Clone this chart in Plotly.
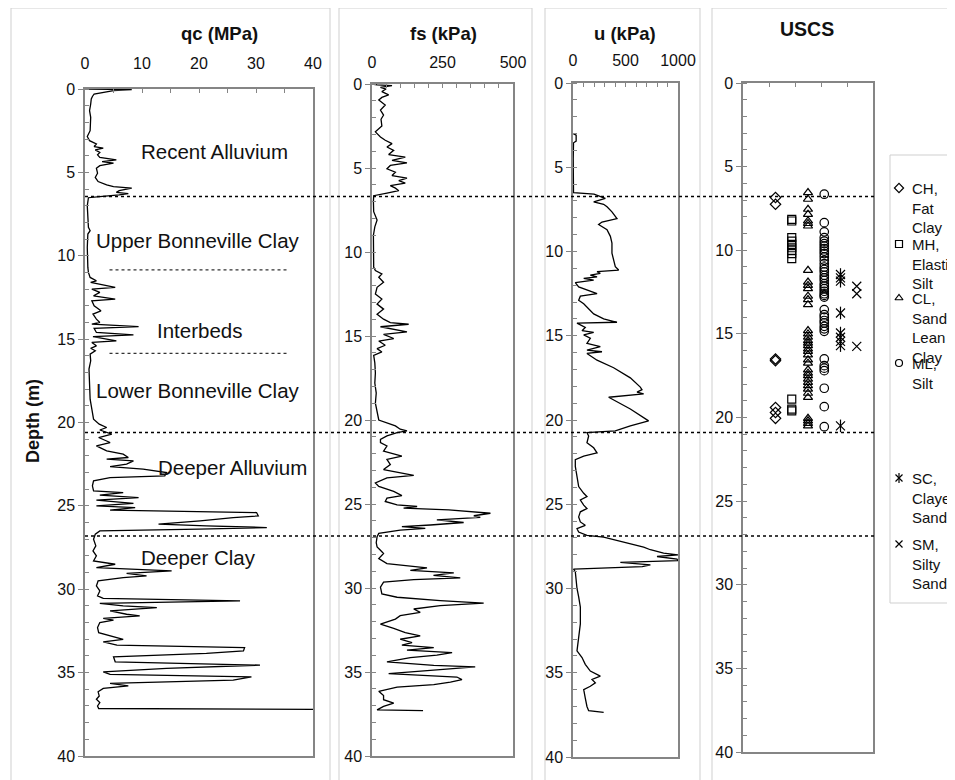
import plotly.graph_objects as go

# The page body keeps the browser's default 8px margin, so the figure is sized to fill the
# remaining window and all layout positions below are given in window pixels.
OFF = 8
W, H = 955 - OFF, 780 - OFF

# ---------------- data ----------------
QC_DEPTH = [0.0, 0.03, 0.1, 0.3, 0.45, 0.6, 0.9, 1.3, 1.7, 2.1, 2.5, 2.85, 3.1, 3.3, 3.45, 3.55, 3.65, 3.8, 3.95, 4.1,
            4.25, 4.35, 4.45, 4.6, 4.75, 5.05, 5.3, 5.55, 5.75, 5.85, 5.95, 6.1, 6.2, 6.27, 6.35, 6.45, 6.52, 7.0, 7.8, 8.3,
            8.5, 8.7, 9.5, 10.3, 10.7, 11.0, 11.3, 11.5, 11.6, 11.9, 12.0, 12.2, 12.4, 12.6, 12.7, 13.0, 13.3, 13.5, 13.8, 14.0,
            14.1, 14.25, 14.35, 14.6, 14.75, 14.85, 15.1, 15.2, 15.4, 15.55, 15.7, 15.9, 16.3, 16.8, 17.5, 18.0, 18.6, 19.2, 19.8, 20.1,
            20.3, 20.45, 20.7, 20.9, 21.2, 21.4, 21.7, 21.9, 22.1, 22.2, 22.3, 22.5, 22.65, 22.8, 23.0, 23.2, 23.3, 23.5, 23.8, 24.1,
            24.2, 24.35, 24.5, 24.65, 24.85, 25.0, 25.1, 25.25, 25.4, 25.6, 25.7, 25.9, 26.1, 26.2, 26.3, 26.4, 26.5, 26.7, 27.0, 27.4,
            27.7, 28.0, 28.3, 28.5, 28.7, 28.9, 29.05, 29.2, 29.3, 29.5, 29.8, 30.1, 30.4, 30.55, 30.7, 30.85, 31.0, 31.1, 31.3, 31.5,
            31.6, 31.75, 31.85, 32.0, 32.3, 32.6, 32.85, 33.0, 33.15, 33.35, 33.5, 33.7, 33.85, 34.05, 34.35, 34.55, 34.75, 34.95, 35.1, 35.25,
            35.45, 35.65, 35.8, 35.95, 36.15, 36.4, 36.6, 36.8, 37.0, 37.15, 37.2]
QC_MPA = [0.5, 8.2, 5.0, 1.6, 1.3, 1.1, 1.0, 0.8, 1.0, 0.9, 0.9, 0.4, 0.8, 2.0, 1.6, 3.2, 1.8, 2.6, 2.2, 2.6,
          5.5, 3.0, 5.0, 2.6, 2.0, 2.2, 1.8, 2.3, 3.8, 5.0, 8.2, 6.0, 5.5, 7.6, 6.0, 2.6, 0.6, 0.4, 0.5, 0.6,
          0.9, 0.5, 0.4, 0.4, 0.5, 0.6, 0.9, 2.0, 1.0, 5.3, 1.2, 2.6, 1.5, 5.3, 1.2, 1.6, 2.8, 1.4, 2.0, 2.6,
          1.2, 9.4, 1.6, 2.0, 8.5, 1.4, 5.5, 1.2, 2.0, 1.0, 1.8, 0.9, 1.0, 0.7, 0.8, 0.9, 0.9, 1.2, 1.5, 2.5,
          3.8, 2.6, 4.7, 2.4, 4.4, 2.0, 3.8, 6.7, 7.6, 3.8, 8.5, 7.3, 4.4, 10.2, 14.3, 14.0, 4.4, 1.5, 1.3, 1.5,
          6.7, 2.6, 9.4, 2.0, 8.5, 2.0, 8.8, 4.4, 30.1, 30.4, 26.0, 20.2, 12.9, 21.3, 31.9, 20.0, 2.6, 1.8, 1.5, 1.9,
          1.4, 2.0, 1.5, 5.3, 2.0, 15.2, 7.3, 10.8, 6.7, 2.3, 2.0, 2.6, 2.2, 3.2, 27.2, 2.6, 6.7, 12.6, 4.4, 7.3,
          9.6, 3.2, 5.0, 2.6, 2.2, 2.4, 5.0, 6.7, 3.2, 5.6, 28.0, 27.8, 21.3, 5.0, 5.3, 30.7, 14.3, 3.2, 4.4, 29.2,
          26.0, 4.4, 7.6, 3.2, 2.3, 2.5, 2.0, 2.6, 2.2, 2.4, 40.0]

FS_DEPTH = [0.0, 0.05, 0.1, 0.2, 0.3, 0.45, 0.65, 0.8, 0.95, 1.25, 1.55, 1.85, 2.1, 2.5, 2.85, 3.15, 3.35, 3.55, 3.75, 3.95,
            4.2, 4.35, 4.55, 4.7, 4.85, 5.05, 5.25, 5.45, 5.6, 5.75, 5.9, 6.05, 6.2, 6.35, 6.5, 6.65, 7.0, 7.6, 8.1, 8.5,
            9.0, 9.8, 10.5, 10.9, 11.1, 11.3, 11.5, 11.8, 12.1, 12.5, 12.8, 13.1, 13.4, 13.7, 14.0, 14.2, 14.3, 14.45, 14.75, 14.9,
            15.15, 15.3, 15.55, 15.75, 15.95, 16.15, 16.6, 17.2, 17.8, 18.4, 19.0, 19.6, 20.0, 20.35, 20.55, 20.65, 20.75, 20.95, 21.15, 21.35,
            21.55, 21.85, 22.15, 22.35, 22.65, 22.95, 23.3, 23.45, 23.75, 23.95, 24.25, 24.5, 24.65, 24.85, 25.05, 25.15, 25.25, 25.35, 25.55, 25.7,
            25.8, 25.95, 26.1, 26.25, 26.35, 26.45, 26.55, 26.75, 26.95, 27.3, 27.55, 27.75, 27.95, 28.25, 28.55, 28.8, 28.95, 29.1, 29.25, 29.4,
            29.5, 29.65, 29.95, 30.35, 30.55, 30.75, 30.9, 31.05, 31.25, 31.45, 31.65, 31.85, 32.15, 32.4, 32.65, 32.85, 33.05, 33.25, 33.4, 33.55,
            33.7, 33.85, 34.0, 34.15, 34.4, 34.6, 34.7, 34.9, 35.1, 35.3, 35.45, 35.6, 35.75, 35.9, 36.15, 36.4, 36.65, 36.85, 37.05, 37.25,
            37.3]
FS_KPA = [0, 18, 71, 30, 50, 35, 59, 35, 24, 47, 30, 41, 32, 35, 12, 30, 47, 71, 53, 77,
          59, 118, 71, 124, 65, 53, 83, 71, 124, 95, 118, 65, 83, 95, 53, 6, 5, 6, 18, 10,
          5, 6, 5, 6, 12, 35, 24, 41, 18, 12, 35, 18, 41, 18, 41, 65, 130, 30, 124, 41,
          77, 24, 47, 18, 35, 6, 10, 12, 10, 15, 12, 18, 24, 83, 100, 124, 89, 53, 30, 30,
          53, 41, 106, 53, 65, 41, 148, 53, 12, 24, 77, 106, 53, 47, 89, 160, 112, 272, 420, 361,
          384, 230, 325, 207, 106, 189, 100, 24, 18, 15, 18, 30, 41, 24, 53, 195, 136, 290, 218, 313,
          148, 41, 30, 35, 89, 242, 396, 242, 148, 171, 100, 83, 30, 77, 118, 171, 100, 142, 106, 219,
          124, 284, 230, 136, 53, 219, 366, 207, 59, 301, 319, 278, 219, 89, 24, 41, 41, 77, 41, 18,
          181]

U_DEPTH = [3.0, 3.1, 3.45, 3.55, 4.5, 6.0, 6.5, 6.6, 6.75, 6.85, 7.05, 7.2, 7.35, 7.65, 8.05, 8.25, 8.4, 8.7, 9.1, 9.5,
           10.1, 10.5, 10.9, 11.1, 11.2, 11.3, 11.4, 11.5, 11.6, 11.7, 11.85, 12.1, 12.3, 12.5, 12.65, 12.9, 13.1, 13.4, 13.7, 14.0,
           14.2, 14.25, 14.5, 14.7, 14.8, 14.95, 15.15, 15.45, 15.65, 15.85, 15.95, 16.05, 16.45, 16.9, 17.5, 18.05, 18.2, 18.35, 18.45, 18.65,
           19.35, 20.05, 20.35, 20.65, 20.75, 20.95, 21.35, 21.65, 21.95, 22.15, 22.35, 22.75, 23.4, 23.95, 24.35, 24.55, 24.75, 25.05, 25.25, 25.45,
           25.75, 26.05, 26.25, 26.45, 26.65, 26.85, 26.95, 27.25, 27.55, 27.7, 27.8, 27.9, 28.0, 28.1, 28.25, 28.35, 28.45, 28.6, 28.7, 28.85,
           29.0, 29.5, 30.0, 30.5, 31.1, 32.1, 33.1, 33.7, 34.1, 34.5, 34.9, 35.2, 35.4, 35.6, 35.8, 36.0, 36.5, 37.0, 37.25, 37.35]
U_KPA = [2, 30, 30, 5, 2, 3, 5, 200, 260, 308, 197, 292, 324, 371, 419, 276, 244, 324, 356, 371,
         371, 387, 403, 435, 229, 260, 165, 229, 102, 197, 22, 54, 133, 229, 70, 54, 102, 149, 197, 292,
         419, 38, 117, 86, 197, 102, 165, 133, 260, 133, 276, 133, 229, 387, 546, 641, 657, 610, 673, 340,
         546, 720, 546, 403, 133, 149, 133, 197, 229, 102, 22, 22, 38, 54, 102, 133, 70, 102, 133, 70,
         54, 70, 117, 38, 54, 133, 292, 483, 673, 737, 816, 863, 1000, 800, 990, 1000, 451, 737, 660, 5,
         22, 30, 38, 54, 70, 70, 54, 38, 86, 117, 165, 260, 181, 213, 165, 102, 117, 133, 149, 292]

USCS_CODES = ["CH", "MH", "CL", "ML", "SC", "SM"]
USCS_LABELS = ["CH,<br>Fat<br>Clay", "MH,<br>Elastic<br>Silt", "CL,<br>Sandy<br>Lean<br>Clay",
               "ML,<br>Silt", "SC,<br>Clayey<br>Sand", "SM,<br>Silty<br>Sand"]
USCS_COLUMN = [2, 3, 4, 5, 6, 7]
CH_DEPTH = [6.85, 7.25, 16.5, 16.6, 19.4, 19.7, 20.05]
MH_DEPTH = [8.15, 8.25, 9.25, 9.45, 9.65, 9.85, 10.0, 10.2, 10.5, 18.9, 19.5, 19.6]
CL_DEPTH = [6.55, 6.95, 7.55, 7.85, 8.25, 8.4, 8.55, 11.2, 11.9, 12.1, 12.3, 12.75, 12.95, 13.25,
            14.8, 15.0, 15.2, 15.4, 15.55, 15.7, 15.9, 16.05, 16.25, 16.55, 16.75, 17.15, 17.35, 17.5,
            17.7, 17.9, 18.1, 18.3, 18.55, 18.8, 20.05, 20.2, 20.35, 20.5]
ML_DEPTH = [6.65, 8.35, 8.9, 9.25, 9.45, 9.6, 9.75, 9.9, 10.05, 10.2, 10.4, 10.6, 10.8, 11.0, 11.15,
            11.3, 11.5, 11.65, 11.8, 12.0, 12.15, 12.3, 12.45, 12.6, 12.7, 12.8, 13.55, 13.85, 14.0,
            14.2, 14.35, 14.55, 14.7, 14.85, 16.5, 16.9, 17.05, 17.2, 18.25, 19.35, 20.55]
SC_DEPTH = [11.45, 11.65, 11.85, 13.75, 14.95, 15.2, 15.45, 15.7, 20.5]
SM_DEPTH = [12.15, 12.6, 15.75]
USCS_DEPTHS = [CH_DEPTH, MH_DEPTH, CL_DEPTH, ML_DEPTH, SC_DEPTH, SM_DEPTH]

LAYER_NAMES = ["Recent Alluvium", "Upper Bonneville Clay", "Interbeds", "Lower Bonneville Clay",
               "Deeper Alluvium", "Deeper Clay"]
LAYER_LABEL_QC = [22.8, 19.8, 20.1, 19.8, 25.8, 19.9]
LAYER_LABEL_DEPTH = [3.72, 9.06, 14.5, 18.1, 22.7, 28.1]
MAJOR_BOUNDARIES = [6.7, 20.75, 26.9]
MINOR_BOUNDARIES = [10.85, 15.85]

# ---------------- layout helpers (window pixels -> paper) ----------------
def px(x):
    return (x - OFF) / W

def py(y):
    return 1 - (y - OFF) / H

FONT = "Arial, 'Liberation Sans', Helvetica, sans-serif"
AXC = "#858585"
FRAMEC = "#cfcfcf"

fig = go.Figure()

line_style = dict(color="black", width=1.3)
fig.add_trace(go.Scatter(x=QC_MPA, y=QC_DEPTH, mode="lines", line=line_style, xaxis="x", yaxis="y",
                         showlegend=False))
fig.add_trace(go.Scatter(x=FS_KPA, y=FS_DEPTH, mode="lines", line=line_style, xaxis="x2", yaxis="y2",
                         showlegend=False))
fig.add_trace(go.Scatter(x=U_KPA, y=U_DEPTH, mode="lines", line=line_style, xaxis="x3", yaxis="y3",
                         showlegend=False))

SYMBOLS = [["diamond-open"], ["square-open"], ["triangle-up-open"], ["circle-open"],
           ["x-thin-open", "line-ns-open"], ["x-thin-open"]]
SIZES = [8, 8, 8, 8.5, 9, 9]
for code, col, depths, syms, sz in zip(USCS_CODES, USCS_COLUMN, USCS_DEPTHS, SYMBOLS, SIZES):
    for s in syms:
        fig.add_trace(go.Scatter(x=[col] * len(depths), y=depths, mode="markers", name=code,
                                 marker=dict(symbol=s, size=sz, color="black",
                                             line=dict(color="black", width=1.2)),
                                 xaxis="x4", yaxis="y4", showlegend=False))

# custom legend symbols (on a hidden window-pixel axis)
LEG_ROW_Y = [188, 244, 298, 363, 478, 544]
LEG_SYM_X = 899
for lab, ry, syms in zip(USCS_LABELS, LEG_ROW_Y, SYMBOLS):
    for s in syms:
        fig.add_trace(go.Scatter(x=[LEG_SYM_X], y=[ry], mode="markers",
                                 marker=dict(symbol=s, size=7, color="black",
                                             line=dict(color="black", width=1.2)),
                                 xaxis="x5", yaxis="y5", showlegend=False, hoverinfo="skip"))

tickfont = dict(family=FONT, size=16, color="#111")

def xax(domain, rng, dtick, minor_dtick, anchor, standoff, labels=True):
    d = dict(domain=domain, range=rng, side="top", anchor=anchor,
             showline=True, mirror=True, linecolor=AXC, linewidth=1.5,
             showgrid=False, zeroline=False, tickmode="linear", tick0=0, dtick=dtick,
             ticks="inside", ticklen=4, tickcolor=AXC, tickwidth=1,
             showticklabels=labels, tickfont=tickfont, ticklabelstandoff=standoff)
    if minor_dtick:
        d["minor"] = dict(ticks="inside", tick0=0, dtick=minor_dtick, ticklen=4,
                          tickcolor=AXC, tickwidth=1, showgrid=False)
    return d

def yax(domain, anchor):
    return dict(domain=domain, range=[40, 0], anchor=anchor,
                showline=True, mirror=True, linecolor=AXC, linewidth=1.5,
                showgrid=False, zeroline=False, tickmode="linear", tick0=0, dtick=5,
                ticks="outside", ticklen=5, tickcolor=AXC, tickwidth=1,
                minor=dict(ticks="inside", tick0=0, dtick=1, ticklen=4, tickcolor=AXC,
                           tickwidth=1, showgrid=False),
                tickfont=tickfont)

QC_X = [px(85), px(313)]
FS_X = [px(372), px(513)]
U_X = [px(573), px(678)]
US_X = [px(743), px(873)]

fig.update_layout(
    width=W, height=H, margin=dict(l=0, r=0, t=0, b=0, autoexpand=False),
    paper_bgcolor="white", plot_bgcolor="rgba(0,0,0,0)", showlegend=False,
    font=dict(family=FONT, color="black"),
    xaxis=xax(QC_X, [0, 40], 10, 5, "y", 12),
    yaxis=yax([py(756), py(89)], "x"),
    xaxis2=xax(FS_X, [0, 500], 250, 50, "y2", 8),
    yaxis2=yax([py(756), py(84)], "x2"),
    xaxis3=xax(U_X, [0, 1000], 500, 100, "y3", 9),
    yaxis3=yax([py(757), py(83)], "x3"),
    xaxis4=xax(US_X, [0, 8], 1.6, None, "y4", 0, labels=False),
    yaxis4=yax([py(752), py(83)], "x4"),
    xaxis5=dict(domain=[0, 1], range=[OFF, OFF + W], visible=False, anchor="y5", fixedrange=True),
    yaxis5=dict(domain=[0, 1], range=[OFF + H, OFF], visible=False, anchor="x5", fixedrange=True),
)

shapes = []
for x0, x1 in [(11, 330), (339, 532), (545, 700), (712, 990)]:
    shapes.append(dict(type="rect", xref="paper", yref="paper", x0=px(x0), x1=px(x1),
                       y0=py(800), y1=py(8), line=dict(color=FRAMEC, width=1), layer="below"))
shapes.append(dict(type="rect", xref="paper", yref="paper", x0=px(890), x1=px(990),
                   y0=py(603), y1=py(155), line=dict(color=FRAMEC, width=1),
                   fillcolor="white", layer="below"))
for d in MAJOR_BOUNDARIES:
    shapes.append(dict(type="line", xref="paper", yref="y2", x0=px(85), x1=px(874), y0=d, y1=d,
                       line=dict(color="black", width=1.5, dash="dot"), layer="above"))
for d in MINOR_BOUNDARIES:
    shapes.append(dict(type="line", xref="x", yref="y", x0=4.3, x1=35.4, y0=d, y1=d,
                       line=dict(color="#333", width=1.2, dash="dot"), layer="above"))
fig.update_layout(shapes=shapes)

ann = []
for name, xq, dq in zip(LAYER_NAMES, LAYER_LABEL_QC, LAYER_LABEL_DEPTH):
    ann.append(dict(text=name, x=xq, y=dq, xref="x", yref="y", showarrow=False,
                    xanchor="center", yanchor="middle",
                    font=dict(family=FONT, size=20.5, color="#111")))
for t, x, y, sz in [("<b>qc (MPa)</b>", 219, 33, 18.5), ("<b>fs (kPa)</b>", 443, 33, 18.5),
                    ("<b>u (kPa)</b>", 625, 33, 18.5), ("<b>USCS</b>", 807, 29, 19.5)]:
    ann.append(dict(text=t, x=px(x), y=py(y), xref="paper", yref="paper", showarrow=False,
                    xanchor="center", yanchor="middle",
                    font=dict(family=FONT, size=sz, color="#111")))
ann.append(dict(text="<b>Depth (m)</b>", x=px(33), y=py(421), xref="paper", yref="paper",
                showarrow=False, textangle=-90, xanchor="center", yanchor="middle",
                font=dict(family=FONT, size=18, color="#111")))
for lab, ry in zip(USCS_LABELS, LEG_ROW_Y):
    ann.append(dict(text=lab, x=px(910), y=py(ry - 10), xref="paper", yref="paper",
                    xanchor="left", yanchor="top", align="left", showarrow=False,
                    font=dict(family=FONT, size=15, color="#111")))
fig.update_layout(annotations=ann)

fig.write_html("out.html")
